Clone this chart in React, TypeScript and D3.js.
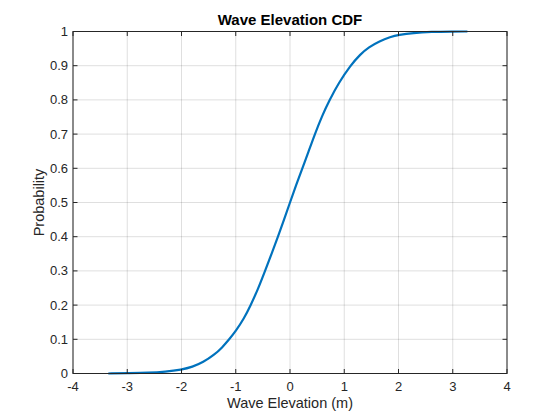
import React from "react";
import * as d3 from "d3";

const waveX = [-3.35, -3.0, -2.6, -2.3, -2.0, -1.8, -1.6, -1.4, -1.25, -1.12, -1.0, -0.85, -0.724, -0.6, -0.46, -0.34, -0.221, -0.11, 0.0, 0.11, 0.229, 0.34, 0.458, 0.59, 0.729, 0.9, 1.11, 1.3, 1.45, 1.65, 1.85, 2.0, 2.27, 2.6, 3.0, 3.27];
const cdfP = [0.0, 0.001, 0.002, 0.005, 0.011, 0.019, 0.033, 0.054, 0.076, 0.1, 0.124, 0.16, 0.2, 0.243, 0.3, 0.35, 0.4, 0.45, 0.5, 0.55, 0.6, 0.648, 0.7, 0.753, 0.8, 0.85, 0.9, 0.934, 0.954, 0.972, 0.984, 0.99, 0.996, 0.999, 0.9998, 1.0];
const xTicks = [-4, -3, -2, -1, 0, 1, 2, 3, 4];
const yTicks = [0, 0.1, 0.2, 0.3, 0.4, 0.5, 0.6, 0.7, 0.8, 0.9, 1];

const W = 560, H = 420;
const L = 73, R = 507, T = 31.5, B = 373.5;
const axisColor = "#262626";
const font = "Arial, 'Liberation Sans', Helvetica, sans-serif";

export default function App() {
  const x = d3.scaleLinear().domain([-4, 4]).range([L, R]);
  const y = d3.scaleLinear().domain([0, 1]).range([B, T]);
  const pts: [number, number][] = waveX.map((v, i) => [v, cdfP[i]]);
  const line = d3.line<[number, number]>().x(d => x(d[0])).y(d => y(d[1])).curve(d3.curveBasis);
  return (
    <svg width={W} height={H} style={{ position: "absolute", left: 0, top: 0, background: "#fff" }} fontFamily={font}>
      <rect x={0} y={0} width={W} height={H} fill="#fff" />
      <rect x={L} y={T} width={R - L} height={B - T} fill="#fff" />
      {xTicks.map(t => (
        <line key={"gx" + t} x1={x(t)} x2={x(t)} y1={T} y2={B} stroke={axisColor} strokeOpacity={0.15} strokeWidth={1} />
      ))}
      {yTicks.map(t => (
        <line key={"gy" + t} x1={L} x2={R} y1={y(t)} y2={y(t)} stroke={axisColor} strokeOpacity={0.15} strokeWidth={1} />
      ))}
      <path d={line(pts) || ""} fill="none" stroke="#0072BD" strokeWidth={2.2} strokeLinejoin="round" />
      <rect x={L} y={T} width={R - L} height={B - T} fill="none" stroke={axisColor} strokeWidth={1} />
      {xTicks.map(t => (
        <g key={"tx" + t}>
          <line x1={x(t)} x2={x(t)} y1={B} y2={B - 4.5} stroke={axisColor} />
          <line x1={x(t)} x2={x(t)} y1={T} y2={T + 4.5} stroke={axisColor} />
          <text x={x(t)} y={B + 17} textAnchor="middle" fontSize={13} fill={axisColor}>{t}</text>
        </g>
      ))}
      {yTicks.map(t => (
        <g key={"ty" + t}>
          <line x1={L} x2={L + 4.5} y1={y(t)} y2={y(t)} stroke={axisColor} />
          <line x1={R} x2={R - 4.5} y1={y(t)} y2={y(t)} stroke={axisColor} />
          <text x={L - 5} y={y(t) + 4.5} textAnchor="end" fontSize={13} fill={axisColor}>{t}</text>
        </g>
      ))}
      <text x={(L + R) / 2} y={25} textAnchor="middle" fontSize={15} fontWeight="bold" fill="#000">Wave Elevation CDF</text>
      <text x={(L + R) / 2} y={408} textAnchor="middle" fontSize={14.5} fill={axisColor}>Wave Elevation (m)</text>
      <text transform={`translate(44,${(T + B) / 2}) rotate(-90)`} textAnchor="middle" fontSize={14.5} fill={axisColor}>Probability</text>
    </svg>
  );
}
